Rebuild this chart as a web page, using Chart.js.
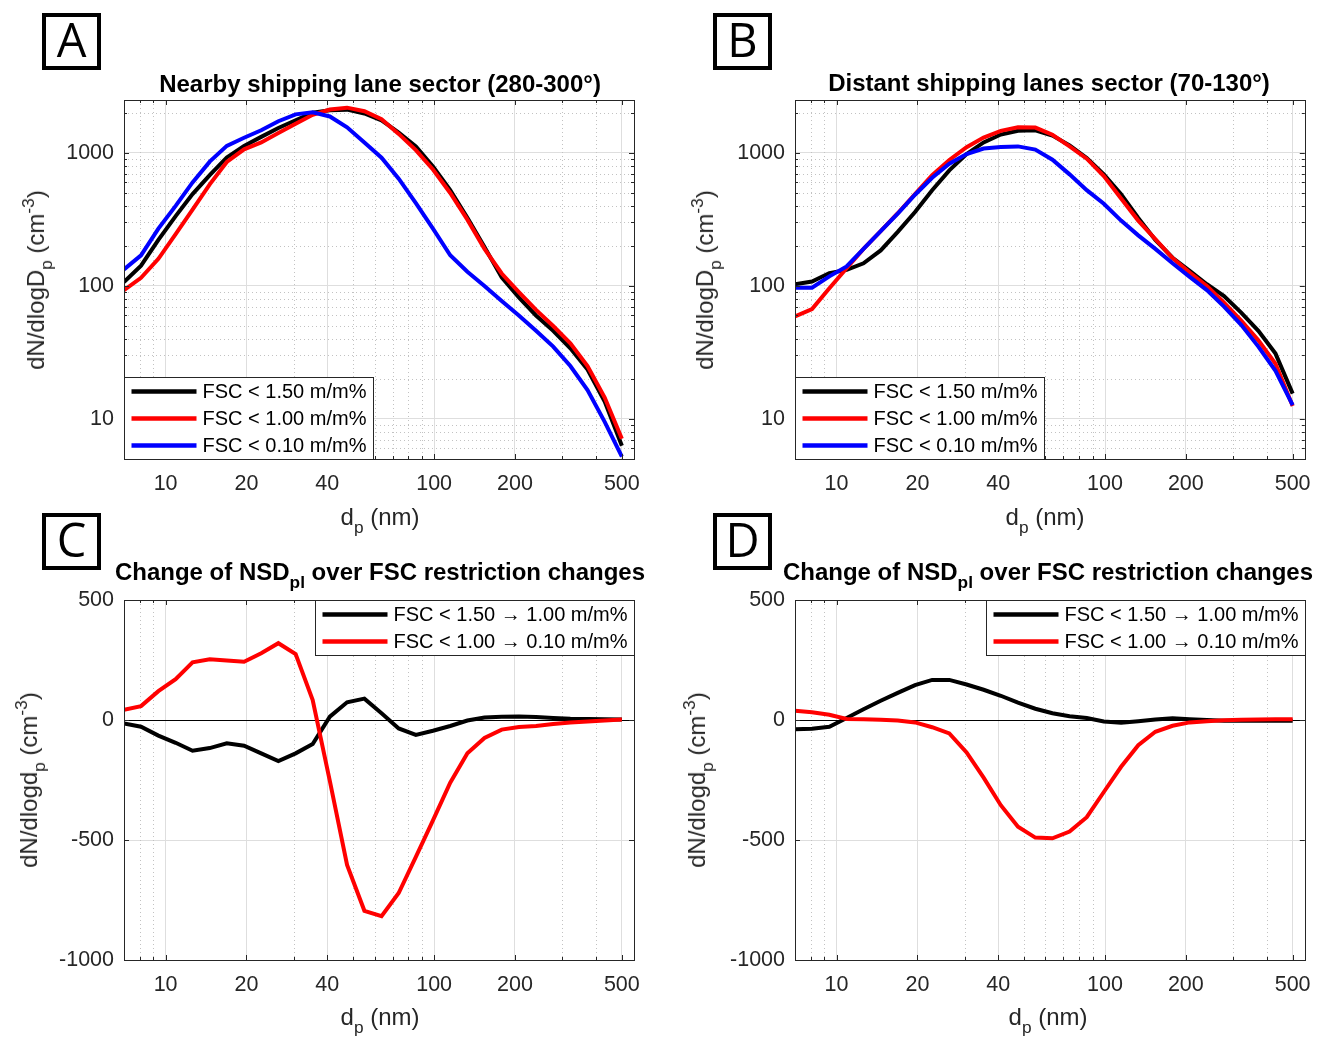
<!DOCTYPE html>
<html>
<head>
<meta charset="utf-8">
<script src="https://cdn.jsdelivr.net/npm/chart.js@4.4.1/dist/chart.umd.min.js"></script>
<style>
  body{margin:0;background:#fff;}
  #fig{position:relative;width:1323px;height:1041px;overflow:hidden;font-family:"Liberation Sans",Arial,sans-serif;}
  canvas{position:absolute;}
  .tag{position:absolute;width:59px;height:57px;box-sizing:border-box;border:4.5px solid #000;font:47px "Open Sans",sans-serif;line-height:44px;text-align:center;color:#000;}
  .ttl,.xl,.yl{position:absolute;white-space:nowrap;line-height:1;transform:translate(-50%,-50%);}
  .ttl{font-weight:bold;font-size:24px;color:#000;}
  .xl,.yl{font-size:24px;color:#262626;}
  .yl{transform:translate(-50%,-50%) rotate(-90deg);}
  sub,sup{font-size:0.72em;line-height:0;}
  sub{vertical-align:-0.45em;}
  sup{vertical-align:0.6em;}
</style>
</head>
<body>
<div id="fig">
  <canvas id="panelA" width="660" height="520" style="left:0;top:0"></canvas>
  <canvas id="panelB" width="663" height="520" style="left:660px;top:0"></canvas>
  <canvas id="panelC" width="660" height="521" style="left:0;top:520px"></canvas>
  <canvas id="panelD" width="663" height="521" style="left:660px;top:520px"></canvas>

  <div class="tag" style="left:42px;top:13px">A</div>
  <div class="tag" style="left:713px;top:13px">B</div>
  <div class="tag" style="left:42px;top:513px">C</div>
  <div class="tag" style="left:713px;top:513px">D</div>

  <div class="ttl" style="left:380px;top:84px">Nearby shipping lane sector (280-300°)</div>
  <div class="ttl" style="left:1049px;top:83px">Distant shipping lanes sector (70-130°)</div>
  <div class="ttl" style="left:380px;top:572px">Change of NSD<sub>pl</sub> over FSC restriction changes</div>
  <div class="ttl" style="left:1048px;top:572px">Change of NSD<sub>pl</sub> over FSC restriction changes</div>

  <div class="xl" style="left:380px;top:517px">d<sub>p</sub> (nm)</div>
  <div class="xl" style="left:1045px;top:517px">d<sub>p</sub> (nm)</div>
  <div class="xl" style="left:380px;top:1017px">d<sub>p</sub> (nm)</div>
  <div class="xl" style="left:1048px;top:1017px">d<sub>p</sub> (nm)</div>

  <div class="yl" style="left:36px;top:280px">dN/dlogD<sub>p</sub> (cm<sup>-3</sup>)</div>
  <div class="yl" style="left:705px;top:280px">dN/dlogD<sub>p</sub> (cm<sup>-3</sup>)</div>
  <div class="yl" style="left:29px;top:780px">dN/dlogd<sub>p</sub> (cm<sup>-3</sup>)</div>
  <div class="yl" style="left:697px;top:780px">dN/dlogd<sub>p</sub> (cm<sup>-3</sup>)</div>
</div>
<script>
const FONT = '"Liberation Sans", Arial, sans-serif';
const INK = '#262626';

// particle diameter bins (nm)
const sizes = [7.0, 8.1, 9.4, 10.9, 12.6, 14.6, 16.9, 19.6, 22.7, 26.3, 30.5, 35.3, 40.9, 47.4, 55.0,
  63.7, 73.8, 85.5, 99.0, 114.8, 133.0, 154.0, 178.5, 206.8, 239.6, 277.6, 321.6, 372.6, 431.7, 500.2];

// nearby shipping lane sector, NSD for each FSC restriction
const nearFsc150 = [107, 142, 222, 335, 490, 680, 925, 1130, 1320, 1540, 1760, 2010, 2095, 2115, 1980,
  1760, 1425, 1120, 790, 525, 325, 196, 116, 82, 60, 46, 34, 23.5, 13.5, 6.3];
const nearFsc100 = [93, 115, 160, 245, 375, 580, 855, 1065, 1200, 1410, 1660, 1935, 2120, 2190, 2060,
  1790, 1390, 1050, 750, 500, 315, 190, 124, 90, 66, 50, 37, 25, 14.5, 7.1];
const nearFsc010 = [133, 170, 270, 400, 600, 860, 1130, 1300, 1480, 1730, 1950, 2020, 1880, 1560, 1200,
  920, 640, 420, 270, 170, 128, 100, 77, 60, 46, 35, 25, 16.5, 9.5, 5.2];

// distant shipping lanes sector
const farFsc150 = [103, 108, 125, 132, 148, 185, 255, 360, 525, 740, 980, 1200, 1375, 1470, 1480,
  1350, 1140, 915, 690, 490, 325, 222, 163, 130, 103, 84, 63, 46, 31, 15.5];
const farFsc100 = [59, 67, 96, 136, 190, 258, 352, 490, 680, 885, 1105, 1305, 1465, 1560, 1550,
  1370, 1120, 905, 670, 455, 310, 225, 162, 126, 100, 75, 55, 39, 26, 12.5];
const farFsc010 = [97, 97, 118, 140, 190, 258, 350, 485, 650, 830, 980, 1080, 1110, 1120, 1060,
  890, 690, 525, 415, 310, 240, 190, 148, 117, 93, 70, 51, 35, 23, 12.7];

// change of NSD between restrictions
const nearDiff150to100 = [-14, -28, -65, -95, -128, -117, -97, -107, -139, -171, -139, -100, 14, 74, 89,
  28, -35, -62, -45, -25, -2, 10, 14, 15, 12, 8, 5, 4, 3, 2];
const nearDiff100to010 = [42, 58, 120, 170, 240, 253, 248, 243, 278, 320, 275, 83, -255, -604, -795,
  -817, -721, -570, -418, -261, -139, -75, -40, -29, -25, -17, -10, -6, -2, 2];
const farDiff150to100 = [-39, -36, -28, 8, 45, 80, 113, 145, 167, 167, 148, 126, 101, 72, 47,
  28, 16, 8, -6, -11, -5, 2, 7, 3, 0, -3, -3, -3, -3, -3];
const farDiff100to010 = [39, 32, 22, 4, 3, 1, -2, -10, -30, -56, -135, -240, -355, -445, -490,
  -493, -465, -405, -300, -195, -105, -49, -24, -10, -5, -1, 1, 2, 3, 3];

const xTicks = [10, 20, 40, 100, 200, 500];
const xMinor = [8, 9, 30, 50, 60, 70, 80, 90, 300, 400];
const logYTicks = [10, 100, 1000];
const logYMinor = [6, 7, 8, 9, 20, 30, 40, 50, 60, 70, 80, 90, 200, 300, 400, 500, 600, 700, 800, 900, 2000];
const diffYTicks = [-1000, -500, 0, 500];

const FSC_LABELS = ['FSC < 1.50 m/m%', 'FSC < 1.00 m/m%', 'FSC < 0.10 m/m%'];
const DIFF_LABELS = ['FSC < 1.50 \u2192 1.00 m/m%', 'FSC < 1.00 \u2192 0.10 m/m%'];

const pts = vals => sizes.map((d, i) => ({x: d, y: vals[i]}));
const line = (label, color, vals, order) =>
  ({label, data: pts(vals), borderColor: color, borderWidth: 4, pointRadius: 0, tension: 0, fill: false, order});

// dotted minor grid, zero line, inward ticks, axes box and an in-plot legend
function framePlugin(p){
  const vline = (ctx, a, x, v, len) => {
    const px = Math.round(x.getPixelForValue(v)) + 0.5;
    if(len==null){ ctx.moveTo(px, a.top); ctx.lineTo(px, a.bottom); return; }
    ctx.moveTo(px, a.bottom); ctx.lineTo(px, a.bottom-len); ctx.moveTo(px, a.top); ctx.lineTo(px, a.top+len);
  };
  const hline = (ctx, a, y, v, len) => {
    const py = Math.round(y.getPixelForValue(v)) + 0.5;
    if(len==null){ ctx.moveTo(a.left, py); ctx.lineTo(a.right, py); return; }
    ctx.moveTo(a.left, py); ctx.lineTo(a.left+len, py); ctx.moveTo(a.right, py); ctx.lineTo(a.right-len, py);
  };
  return {
    id: 'frame',
    beforeDatasetsDraw(chart){
      const {ctx, chartArea: a, scales: {x, y}} = chart;
      ctx.save();
      ctx.strokeStyle = '#c2c2c2'; ctx.lineWidth = 1; ctx.setLineDash([1, 3]);
      ctx.beginPath();
      xMinor.forEach(v => vline(ctx, a, x, v));
      (p.yMinor||[]).forEach(v => hline(ctx, a, y, v));
      ctx.stroke();
      ctx.setLineDash([]);
      if(p.zeroLine){
        ctx.strokeStyle = '#000'; ctx.beginPath(); hline(ctx, a, y, 0); ctx.stroke();
      }
      ctx.restore();
    },
    afterDatasetsDraw(chart){
      const {ctx, chartArea: a, scales: {x, y}} = chart;
      ctx.save();
      ctx.strokeStyle = INK; ctx.lineWidth = 1;
      ctx.beginPath();
      xTicks.forEach(v => vline(ctx, a, x, v, 5));
      xMinor.forEach(v => vline(ctx, a, x, v, 3));
      p.yTicks.forEach(v => hline(ctx, a, y, v, 5));
      (p.yMinor||[]).forEach(v => hline(ctx, a, y, v, 3));
      ctx.stroke();
      const L = Math.round(a.left)+0.5, T = Math.round(a.top)+0.5;
      ctx.strokeRect(L, T, Math.round(a.right-a.left), Math.round(a.bottom-a.top));

      // legend box
      const ds = chart.data.datasets;
      ctx.font = '20px ' + FONT;
      const tw = Math.max(...ds.map(d => ctx.measureText(d.label).width));
      const w = Math.round(7 + 65 + 6 + tw + 7), h = 28 + 27*(ds.length-1);
      const bx = p.legend === 'sw' ? L : Math.round(a.right) - w + 0.5;
      const by = p.legend === 'sw' ? Math.round(a.bottom) - h + 0.5 : T;
      ctx.fillStyle = '#fff'; ctx.fillRect(bx, by, w, h);
      ctx.strokeStyle = INK; ctx.strokeRect(bx, by, w, h);
      ctx.textBaseline = 'middle'; ctx.textAlign = 'left';
      ds.forEach((d, i) => {
        const ry = by + 14 + 27*i;
        ctx.strokeStyle = d.borderColor; ctx.lineWidth = 4.5;
        ctx.beginPath(); ctx.moveTo(bx+7, ry); ctx.lineTo(bx+72, ry); ctx.stroke();
        ctx.fillStyle = '#000'; ctx.fillText(d.label, bx+78, ry+1);
      });
      ctx.restore();
    }
  };
}

function panel(id, datasets, p){
  const tickFont = {family: FONT, size: 21.5};
  new Chart(document.getElementById(id), {
    type: 'line',
    data: {datasets},
    options: {
      responsive: false, animation: false, events: [],
      layout: {padding: {top: p.top, right: p.right, left: 0, bottom: 0}},
      plugins: {legend: {display: false}, tooltip: {enabled: false}},
      scales: {
        x: {
          type: 'logarithmic', min: 7, max: 555,
          afterBuildTicks: s => { s.ticks = xTicks.map(v => ({value: v})); },
          afterFit: s => { s.height = p.xh; },
          ticks: {callback: v => String(v), color: INK, font: tickFont, padding: 12, autoSkip: false, maxRotation: 0},
          grid: {color: '#dedede', drawTicks: false},
          border: {display: false}
        },
        y: {
          type: p.yType, min: p.yMin, max: p.yMax,
          afterBuildTicks: s => { s.ticks = p.yTicks.map(v => ({value: v})); },
          afterFit: s => { s.width = p.yw; },
          ticks: {callback: v => String(v), color: INK, font: tickFont, padding: 10, autoSkip: false},
          grid: {color: '#dedede', drawTicks: false},
          border: {display: false}
        }
      }
    },
    plugins: [framePlugin(p)]
  });
}

const logAxes = {yType: 'logarithmic', yMin: 5, yMax: 2500, yTicks: logYTicks, yMinor: logYMinor, legend: 'sw', top: 100, xh: 61};
const diffAxes = {yType: 'linear', yMin: -1000, yMax: 500, yTicks: diffYTicks, legend: 'ne', zeroLine: true, top: 80, xh: 81};

panel('panelA', [
  line(FSC_LABELS[0], '#000000', nearFsc150, 3),
  line(FSC_LABELS[1], '#ff0000', nearFsc100, 2),
  line(FSC_LABELS[2], '#0000ff', nearFsc010, 1)
], {...logAxes, yw: 124, right: 26});

panel('panelB', [
  line(FSC_LABELS[0], '#000000', farFsc150, 3),
  line(FSC_LABELS[1], '#ff0000', farFsc100, 2),
  line(FSC_LABELS[2], '#0000ff', farFsc010, 1)
], {...logAxes, yw: 135, right: 18});

panel('panelC', [
  line(DIFF_LABELS[0], '#000000', nearDiff150to100, 2),
  line(DIFF_LABELS[1], '#ff0000', nearDiff100to010, 1)
], {...diffAxes, yw: 124, right: 26});

panel('panelD', [
  line(DIFF_LABELS[0], '#000000', farDiff150to100, 2),
  line(DIFF_LABELS[1], '#ff0000', farDiff100to010, 1)
], {...diffAxes, yw: 135, right: 18});
</script>
</body>
</html>
